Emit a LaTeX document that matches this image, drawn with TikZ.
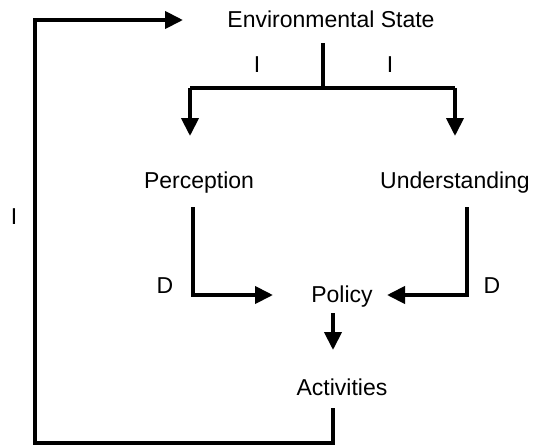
\documentclass[tikz,border=0pt]{standalone}
\usepackage{fontspec}
\setmainfont{Liberation Sans}
\usetikzlibrary{arrows.meta}

\begin{document}
\begin{tikzpicture}[
  x=0.5pt, y=-0.5pt,
  font=\fontsize{11.5}{13}\selectfont, >={Triangle[length=9pt,width=8.5pt]},
  lab/.style={anchor=base, inner sep=0pt},
  tag/.style={anchor=base, inner sep=0pt},
  arr/.style={line width=2pt},
]
\useasboundingbox (0,0) rectangle (536,446);

% states
\node[lab] (env)  at (331,27)  {Environmental State};
\node[lab] (perc) at (199,188) {Perception};
\node[lab] (und)  at (455,188) {Understanding};
\node[lab] (pol)  at (342,302) {Policy};
\node[lab] (act)  at (342,395) {Activities};

% influence labels
\node[tag] (il) at (257,72)  {I};
\node[tag] (ir) at (390,72)  {I};
\node[tag] (ib) at (14,224)  {I};
\node[tag] (dl) at (165,293) {D};
\node[tag] (dr) at (492,293) {D};

% connector ends
\coordinate (envout) at (323,43);
\coordinate (fork)   at (323,88);
\coordinate (forkl)  at (190,88);
\coordinate (forkr)  at (455,88);
\coordinate (percin) at (190,136);
\coordinate (undin)  at (455,136);
\coordinate (percout) at (193,207);
\coordinate (percbend) at (193,295);
\coordinate (polinl) at (273,295);
\coordinate (undout) at (467,207);
\coordinate (undbend) at (467,295);
\coordinate (polinr) at (387,295);
\coordinate (polout) at (333,313);
\coordinate (actin)  at (333,350);
\coordinate (actout) at (333,408);
\coordinate (loopb)  at (333,443);
\coordinate (loopl)  at (35,443);
\coordinate (loopt)  at (35,20);
\coordinate (envin)  at (183,20);

\draw[arr] (envout) -- (fork);
\draw[arr] (forkl) -- (forkr);
\draw[arr, ->] (forkl) -- (percin);
\draw[arr, ->] (forkr) -- (undin);
\draw[arr, ->] (percout) -- (percbend) -- (polinl);
\draw[arr, ->] (undout) -- (undbend) -- (polinr);
\draw[arr, ->] (polout) -- (actin);
\draw[arr, ->] (actout) -- (loopb) -- (loopl) -- (loopt) -- (envin);
\end{tikzpicture}
\end{document}
